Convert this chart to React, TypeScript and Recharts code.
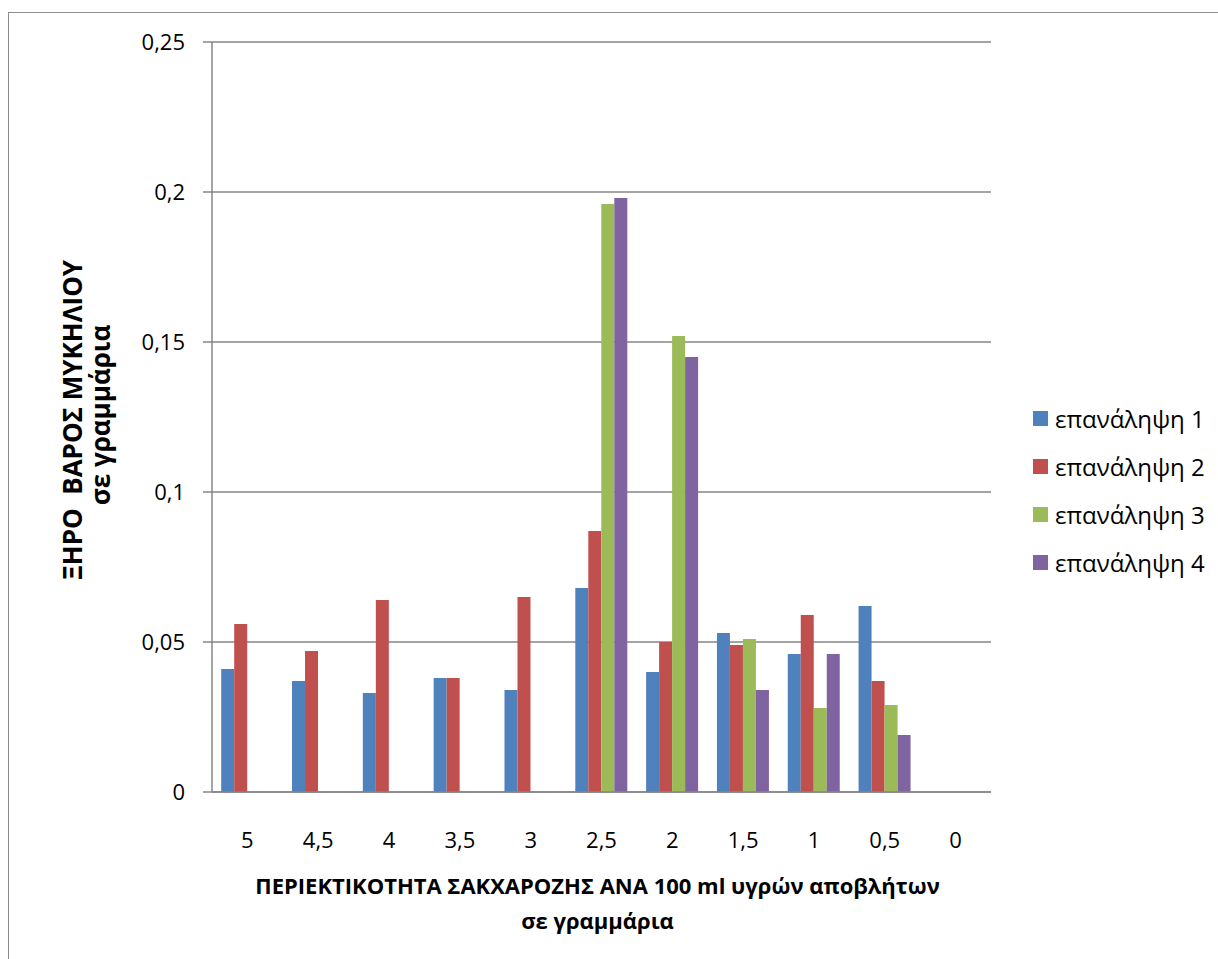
import { BarChart, Bar, XAxis, YAxis, CartesianGrid, Label } from "recharts";

const categories = ["5", "4,5", "4", "3,5", "3", "2,5", "2", "1,5", "1", "0,5", "0"];
const rep1 = [0.041, 0.037, 0.033, 0.038, 0.034, 0.068, 0.040, 0.053, 0.046, 0.062, null];
const rep2 = [0.056, 0.047, 0.064, 0.038, 0.065, 0.087, 0.050, 0.049, 0.059, 0.037, null];
const rep3 = [null, null, null, null, null, 0.196, 0.152, 0.051, 0.028, 0.029, null];
const rep4 = [null, null, null, null, null, 0.198, 0.145, 0.034, 0.046, 0.019, null];
const yTicks = [0, 0.05, 0.1, 0.15, 0.2, 0.25];

const series = [
  { key: "r1", name: "επανάληψη 1", color: "#4F81BD" },
  { key: "r2", name: "επανάληψη 2", color: "#C0504D" },
  { key: "r3", name: "επανάληψη 3", color: "#9BBB59" },
  { key: "r4", name: "επανάληψη 4", color: "#8064A2" },
];

const data = categories.map((c, i) => ({
  cat: c,
  r1: rep1[i],
  r2: rep2[i],
  r3: rep3[i],
  r4: rep4[i],
}));

const FONT = "'Open Sans', sans-serif";

function LegendBox() {
  return (
    <div
      style={{
        position: "absolute",
        left: 1033,
        top: 394,
        fontFamily: FONT,
        fontSize: 24,
        color: "#000",
      }}
    >
      {series.map((s) => (
        <div key={s.key} style={{ display: "flex", alignItems: "center", height: 48 }}>
          <span style={{ width: 15, height: 15, background: s.color, marginRight: 7, display: "inline-block" }} />
          <span>{s.name}</span>
        </div>
      ))}
    </div>
  );
}

export default function App() {
  return (
    <div style={{ position: "absolute", left: 0, top: 0, width: 1218, height: 959, background: "#fff", overflow: "hidden" }}>
      <div
        style={{
          position: "absolute",
          left: 8,
          top: 12,
          width: 1300,
          height: 1000,
          borderLeft: "1.5px solid #8c8c8c",
          borderTop: "1.5px solid #8c8c8c",
        }}
      />
      <div style={{ position: "absolute", left: 0, top: 0 }}>
        <BarChart
          width={1218}
          height={959}
          data={data}
          margin={{ top: 42, right: 227, bottom: 0, left: 152 }}
          barCategoryGap="13%"
          barGap={0}
        >
          <CartesianGrid vertical={false} stroke="#868686" strokeWidth={1.5} />
          <XAxis
            dataKey="cat"
            height={167}
            tickLine={false}
            axisLine={{ stroke: "#868686", strokeWidth: 1.5 }}
            tickMargin={34}
            tick={{ fontSize: 22, fill: "#000", fontFamily: FONT }}
          >
            <Label
              content={({ viewBox }: any) => {
                const cx = viewBox.x + viewBox.width / 2 - 4;
                return (
                  <g style={{ fontFamily: FONT, fontWeight: 700, fontSize: 22 }}>
                    <text x={cx} y={viewBox.y + 102} textAnchor="middle" fill="#000">
                      ΠΕΡΙΕΚΤΙΚΟΤΗΤΑ ΣΑΚΧΑΡΟΖΗΣ ΑΝΑ 100 ml υγρών αποβλήτων
                    </text>
                    <text x={cx} y={viewBox.y + 137} textAnchor="middle" fill="#000">
                      σε γραμμάρια
                    </text>
                  </g>
                );
              }}
            />
          </XAxis>
          <YAxis
            width={60}
            domain={[0, 0.25]}
            ticks={yTicks}
            tickSize={9}
            tickMargin={18}
            tickLine={{ stroke: "#868686", strokeWidth: 1.5 }}
            axisLine={{ stroke: "#868686", strokeWidth: 1.5 }}
            tick={{ fontSize: 22, fill: "#000", fontFamily: FONT }}
            tickFormatter={(v: number) => String(v).replace(".", ",")}
          >
            <Label
              content={() => (
                <g style={{ fontFamily: FONT, fontWeight: 700, fontSize: 26 }}>
                  <text
                    x={82}
                    y={420}
                    transform="rotate(-90 82 420)"
                    textAnchor="middle"
                    fill="#000"
                    xmlSpace="preserve"
                    style={{ whiteSpace: "pre" }}
                  >
                    {"ΞΗΡΟ  ΒΑΡΟΣ ΜΥΚΗΛΙΟΥ"}
                  </text>
                  <text x={110} y={415} transform="rotate(-90 110 415)" textAnchor="middle" fill="#000">
                    σε γραμμάρια
                  </text>
                </g>
              )}
            />
          </YAxis>
          {series.map((s) => (
            <Bar key={s.key} dataKey={s.key} name={s.name} fill={s.color} isAnimationActive={false} />
          ))}
        </BarChart>
      </div>
      <LegendBox />
    </div>
  );
}
